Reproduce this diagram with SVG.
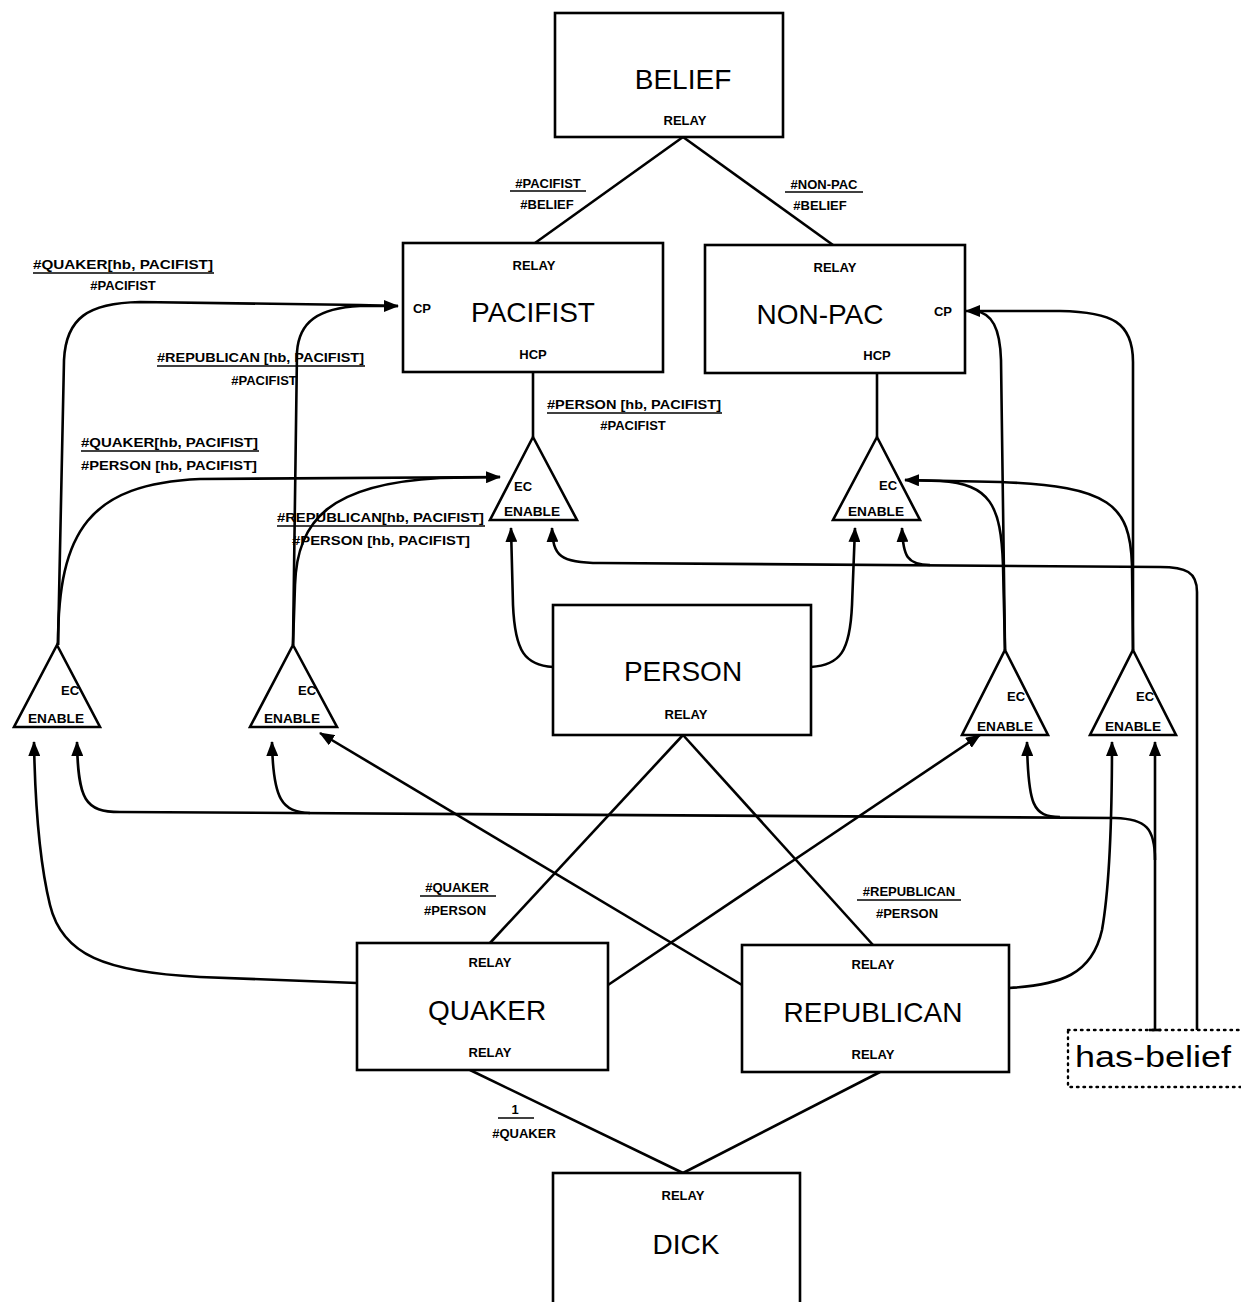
<svg xmlns="http://www.w3.org/2000/svg" width="1241" height="1302" viewBox="0 0 1241 1302">
<style>
.box{fill:#fff;stroke:#000;stroke-width:2.6}
.tri{fill:#fff;stroke:#000;stroke-width:2.6;stroke-linejoin:miter}
.big{font-family:"Liberation Sans",Arial,sans-serif;font-size:28px;text-anchor:middle;fill:#000}
.sm{font-family:"Liberation Sans",Arial,sans-serif;font-size:13px;font-weight:bold;text-anchor:middle;fill:#000}
.lbl{font-family:"Liberation Sans",Arial,sans-serif;font-size:13px;font-weight:bold;fill:#000}
.ln{fill:none;stroke:#000;stroke-width:2.6}
.ul{stroke:#000;stroke-width:1.6}
.arr{fill:none;stroke:#000;stroke-width:2.6;marker-end:url(#ah)}
.dot{fill:none;stroke:#000;stroke-width:2.4;stroke-dasharray:1.5 5;stroke-linecap:round}
</style>
<defs>
<marker id="ah" markerUnits="userSpaceOnUse" markerWidth="16" markerHeight="12" refX="14" refY="6" orient="auto">
<path d="M0,0 L15,6 L0,12 Z" fill="#000"/>
</marker>
</defs>
<rect width="1241" height="1302" fill="#fff"/>

<g id="connectors">
<path class="ln" d="M683,137 L535,243"/>
<path class="ln" d="M683,137 L833,245"/>
<path class="ln" d="M533,372 L533,437"/>
<path class="ln" d="M877,373 L877,437"/>
<path class="ln" d="M683,735 L490,943"/>
<path class="ln" d="M683,735 L873,945"/>
<path class="ln" d="M470,1070 L683,1173"/>
<path class="ln" d="M880,1072 L683,1173"/>
<!-- lower-left ECs to PACIFIST CP -->
<path class="ln" d="M58,645 L64,360 C66,318 88,303 140,302 L360,305 L398,306"/>
<path class="arr" d="M293,645 L297,352 C299,322 318,308 360,306 L398,306"/>
<!-- lower-left ECs to upper EC (T1) -->
<path class="ln" d="M58,645 C58,530 90,484 200,479 L500,477"/>
<path class="arr" d="M293,645 L295,585 C297,520 330,484 440,478 L500,477"/>
<!-- lower-right ECs to NON-PAC CP -->
<path class="ln" d="M1005,650 L1001,360 C1000,328 992,313 975,311"/>
<path class="arr" d="M1133,650 L1133,362 C1133,322 1112,312 1060,311 L966,311"/>
<!-- lower-right ECs to upper EC (T2) -->
<path class="ln" d="M1005,650 L1003,565 C1001,505 990,484 940,481 L905,480"/>
<path class="arr" d="M1133,650 L1132,565 C1130,505 1110,486 1000,482 L905,480"/>
<!-- PERSON to upper ECs -->
<path class="arr" d="M553,667 C525,665 515,652 513,605 L511,528"/>
<path class="arr" d="M811,667 C840,665 850,652 852,605 L855,528"/>
<!-- has-belief line A -->
<path class="ln" d="M1197,1030 L1197,592 C1197,572 1186,567 1160,567 L600,563"/>
<path class="arr" d="M600,563 C560,563 553,556 552,528"/>
<path class="arr" d="M930,565 C907,565 903,556 902,528"/>
<!-- has-belief line B -->
<path class="arr" d="M1155,1030 L1155,742"/>
<path class="ln" d="M1149,1030 L1161,1030"/>
<path class="ln" d="M1155,860 C1155,828 1146,819 1115,818 L120,812"/>
<path class="arr" d="M120,812 C85,812 78,800 77,742"/>
<path class="arr" d="M310,813 C282,812 273,800 272,742"/>
<path class="arr" d="M1060,817 C1033,817 1028,805 1027,742"/>
<!-- QUAKER / REPUBLICAN to lower ECs -->
<path class="arr" d="M357,983 L200,977 C105,972 62,955 50,905 C39,860 35,800 34,742"/>
<path class="arr" d="M608,985 L980,735"/>
<path class="arr" d="M742,985 L320,733"/>
<path class="arr" d="M1009,988 C1060,985 1092,975 1102,930 C1110,885 1112,800 1112,742"/>
</g>

<g id="edge-labels">
<text class="sm" x="548" y="188">#PACIFIST</text>
<line class="ul" x1="510" y1="191" x2="586" y2="191"/>
<text class="sm" x="547" y="209">#BELIEF</text>
<text class="sm" x="824" y="189">#NON-PAC</text>
<line class="ul" x1="785" y1="192" x2="863" y2="192"/>
<text class="sm" x="820" y="210">#BELIEF</text>

<text class="lbl" x="33" y="269" textLength="180" lengthAdjust="spacingAndGlyphs">#QUAKER[hb, PACIFIST]</text>
<line class="ul" x1="33" y1="273" x2="214" y2="273"/>
<text class="sm" x="123" y="290">#PACIFIST</text>

<text class="lbl" x="157" y="362" textLength="207" lengthAdjust="spacingAndGlyphs">#REPUBLICAN [hb, PACIFIST]</text>
<line class="ul" x1="157" y1="366" x2="365" y2="366"/>
<text class="sm" x="264" y="385">#PACIFIST</text>

<text class="lbl" x="547" y="409" textLength="174" lengthAdjust="spacingAndGlyphs">#PERSON [hb, PACIFIST]</text>
<line class="ul" x1="547" y1="413" x2="722" y2="413"/>
<text class="sm" x="633" y="430">#PACIFIST</text>

<text class="lbl" x="81" y="447" textLength="177" lengthAdjust="spacingAndGlyphs">#QUAKER[hb, PACIFIST]</text>
<line class="ul" x1="81" y1="451" x2="259" y2="451"/>
<text class="lbl" x="81" y="470" textLength="176" lengthAdjust="spacingAndGlyphs">#PERSON [hb, PACIFIST]</text>

<text class="lbl" x="277" y="522" textLength="207" lengthAdjust="spacingAndGlyphs">#REPUBLICAN[hb, PACIFIST]</text>
<line class="ul" x1="277" y1="526" x2="485" y2="526"/>
<text class="lbl" x="292" y="545" textLength="178" lengthAdjust="spacingAndGlyphs">#PERSON [hb, PACIFIST]</text>

<text class="sm" x="457" y="892">#QUAKER</text>
<line class="ul" x1="420" y1="896" x2="496" y2="896"/>
<text class="sm" x="455" y="915">#PERSON</text>

<text class="sm" x="909" y="896">#REPUBLICAN</text>
<line class="ul" x1="857" y1="900" x2="961" y2="900"/>
<text class="sm" x="907" y="918">#PERSON</text>

<text class="sm" x="515" y="1114">1</text>
<line class="ul" x1="498" y1="1118" x2="534" y2="1118"/>
<text class="sm" x="524" y="1138">#QUAKER</text>
</g>

<g id="BELIEF">
<rect class="box" x="555" y="13" width="228" height="124"/>
<text class="big" x="683" y="89">BELIEF</text>
<text class="sm" x="685" y="125">RELAY</text>
</g>

<g id="PACIFIST">
<rect class="box" x="403" y="243" width="260" height="129"/>
<text class="sm" x="534" y="270">RELAY</text>
<text class="big" x="533" y="322">PACIFIST</text>
<text class="sm" x="533" y="359">HCP</text>
<text class="sm" x="422" y="313">CP</text>
</g>

<g id="NON-PAC">
<rect class="box" x="705" y="245" width="260" height="128"/>
<text class="sm" x="835" y="272">RELAY</text>
<text class="big" x="820" y="324">NON-PAC</text>
<text class="sm" x="877" y="360">HCP</text>
<text class="sm" x="943" y="316">CP</text>
</g>

<g id="PERSON">
<rect class="box" x="553" y="605" width="258" height="130"/>
<text class="big" x="683" y="681">PERSON</text>
<text class="sm" x="686" y="719">RELAY</text>
</g>

<g id="QUAKER">
<rect class="box" x="357" y="943" width="251" height="127"/>
<text class="sm" x="490" y="967">RELAY</text>
<text class="big" x="487" y="1020">QUAKER</text>
<text class="sm" x="490" y="1057">RELAY</text>
</g>

<g id="REPUBLICAN">
<rect class="box" x="742" y="945" width="267" height="127"/>
<text class="sm" x="873" y="969">RELAY</text>
<text class="big" x="873" y="1022">REPUBLICAN</text>
<text class="sm" x="873" y="1059">RELAY</text>
</g>

<g id="DICK">
<rect class="box" x="553" y="1173" width="247" height="135"/>
<text class="sm" x="683" y="1200">RELAY</text>
<text class="big" x="686" y="1254">DICK</text>
</g>

<g id="has-belief">
<rect class="dot" x="1068" y="1030" width="175" height="57"/>
<text x="1075" y="1067" font-family="Liberation Sans, Arial, sans-serif" font-size="30" textLength="156" lengthAdjust="spacingAndGlyphs" fill="#000">has-belief</text>
</g>

<g id="EC-pacifist">
<path class="tri" d="M533,437 L577,520 L490,520 Z"/>
<text class="sm" x="523" y="491">EC</text>
<text class="sm" x="532" y="516" textLength="56" lengthAdjust="spacingAndGlyphs">ENABLE</text>
</g>

<g id="EC-nonpac">
<path class="tri" d="M877,437 L920,520 L833,520 Z"/>
<text class="sm" x="888" y="490">EC</text>
<text class="sm" x="876" y="516" textLength="56" lengthAdjust="spacingAndGlyphs">ENABLE</text>
</g>

<g id="EC-quaker">
<path class="tri" d="M57,645 L100,727 L14,727 Z"/>
<text class="sm" x="70" y="695">EC</text>
<text class="sm" x="56" y="723" textLength="56" lengthAdjust="spacingAndGlyphs">ENABLE</text>
</g>

<g id="EC-republican">
<path class="tri" d="M293,645 L337,727 L250,727 Z"/>
<text class="sm" x="307" y="695">EC</text>
<text class="sm" x="292" y="723" textLength="56" lengthAdjust="spacingAndGlyphs">ENABLE</text>
</g>

<g id="EC-quaker-nonpac">
<path class="tri" d="M1005,650 L1048,735 L962,735 Z"/>
<text class="sm" x="1016" y="701">EC</text>
<text class="sm" x="1005" y="731" textLength="56" lengthAdjust="spacingAndGlyphs">ENABLE</text>
</g>

<g id="EC-republican-nonpac">
<path class="tri" d="M1133,650 L1176,735 L1090,735 Z"/>
<text class="sm" x="1145" y="701">EC</text>
<text class="sm" x="1133" y="731" textLength="56" lengthAdjust="spacingAndGlyphs">ENABLE</text>
</g>
</svg>
